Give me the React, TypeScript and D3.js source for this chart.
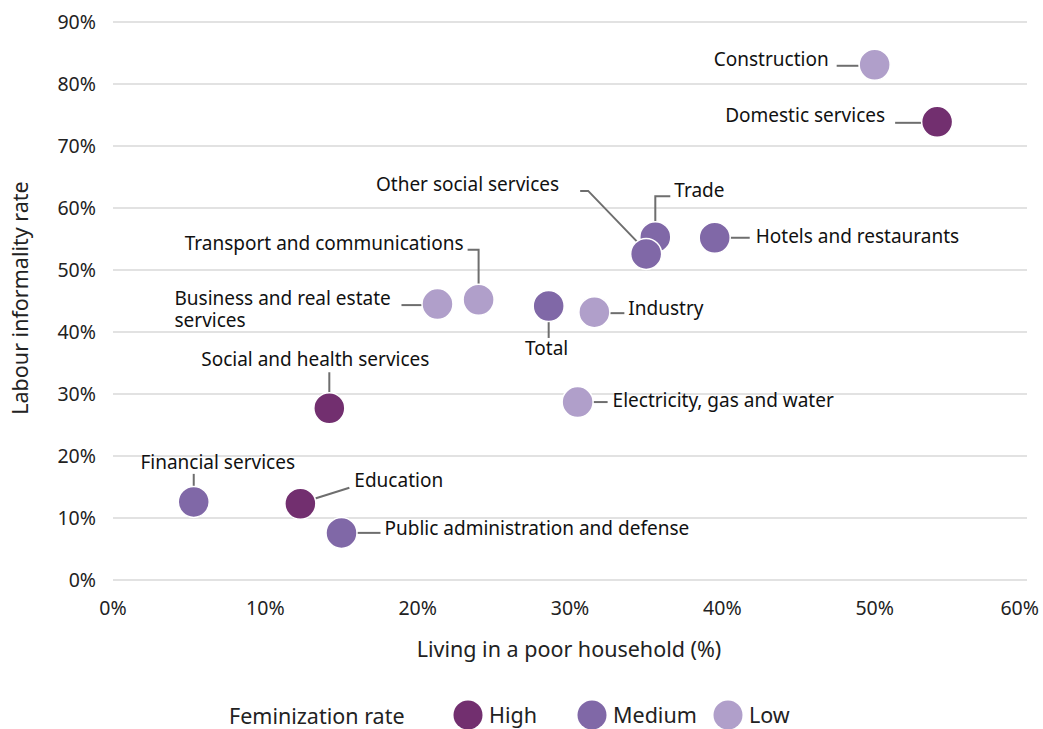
import React from "react";
import * as d3 from "d3";

const sectors = [
  "Construction",
  "Domestic services",
  "Hotels and restaurants",
  "Trade",
  "Other social services",
  "Transport and communications",
  "Business and real estate services",
  "Total",
  "Industry",
  "Social and health services",
  "Electricity, gas and water",
  "Financial services",
  "Education",
  "Public administration and defense",
];
const poorHousehold = [50.0, 54.1, 39.5, 35.6, 35.0, 24.0, 21.3, 28.6, 31.6, 14.2, 30.5, 5.3, 12.3, 15.0];
const informality = [83.1, 73.9, 55.2, 55.3, 52.6, 45.2, 44.5, 44.2, 43.2, 27.7, 28.7, 12.6, 12.3, 7.6];
const feminization = ["Low", "High", "Medium", "Medium", "Medium", "Low", "Low", "Medium", "Low", "High", "Low", "Medium", "High", "Medium"];

const xTicks = [0, 10, 20, 30, 40, 50, 60];
const yTicks = [0, 10, 20, 30, 40, 50, 60, 70, 80, 90];
const legendLevels = ["High", "Medium", "Low"];

// annotation layout: label anchor offsets and leader line paths relative to point
type Ann = { anchor: "start" | "middle" | "end"; dx: number; dy: number; lines?: string[]; path: [number, number][] };
const annotations: Ann[] = [
  { anchor: "end", dx: -46, dy: -5, path: [[-38, 1], [-16, 1]] },
  { anchor: "end", dx: -52, dy: -6, path: [[-42, 1], [-15, 1]] },
  { anchor: "start", dx: 41, dy: -1, path: [[15, 0], [35, 0]] },
  { anchor: "start", dx: 19, dy: -47, path: [[0, -15], [0, -41], [15, -41]] },
  { anchor: "end", dx: -87, dy: -70, path: [[-66, -63], [-58, -63], [-6, -9]] },
  { anchor: "end", dx: -15, dy: -56, path: [[-11, -50], [0, -50], [0, -15]] },
  { anchor: "start", dx: -263, dy: -6, lines: ["Business and real estate", "services"], path: [[-36, 1], [-15, 1]] },
  { anchor: "middle", dx: -2, dy: 42, path: [[0, 15], [0, 32]] },
  { anchor: "start", dx: 34, dy: -4, path: [[15, 1], [30, 1]] },
  { anchor: "middle", dx: -14, dy: -49, path: [[0, -36], [0, -15]] },
  { anchor: "start", dx: 35, dy: -2, path: [[15, 0], [30, 0]] },
  { anchor: "middle", dx: 24, dy: -40, path: [[0, -28], [0, -15]] },
  { anchor: "start", dx: 54, dy: -23, path: [[14, -5], [49, -16]] },
  { anchor: "start", dx: 43, dy: -5, path: [[15, 0], [39, 0]] },
];

const colors: Record<string, string> = { High: "#722f6f", Medium: "#8068a7", Low: "#b09fca" };
const FONT = "'Noto Sans', 'Open Sans', sans-serif";

export default function App() {
  const W = 1043, H = 729;
  const x = d3.scaleLinear().domain([0, 60]).range([113, 1027]);
  const y = d3.scaleLinear().domain([0, 90]).range([580, 22]);
  const line = d3.line();
  const order = [0, 1, 2, 3, 4, 5, 6, 7, 8, 9, 10, 11, 12, 13];

  return (
    <svg width={W} height={H} style={{ position: "absolute", left: 0, top: 0, fontFamily: FONT }}>
      <rect width={W} height={H} fill="#fff" />
      {yTicks.map((t) => (
        <g key={t}>
          <line x1={x(0)} x2={x(60)} y1={y(t)} y2={y(t)} stroke="#d9d9d9" strokeWidth={1.5} />
          <text x={96} y={y(t)} dy="0.35em" textAnchor="end" fontSize={19.5} fill="#222">{t}%</text>
        </g>
      ))}
      {xTicks.map((t) => {
        const last = x(t) + 20 > W - 4;
        return (
          <text key={t} x={last ? W - 4 : x(t)} y={608} dy="0.35em" textAnchor={last ? "end" : "middle"} fontSize={19.5} fill="#222">{t}%</text>
        );
      })}
      <text x={569} y={649} dy="0.35em" textAnchor="middle" fontSize={21.5} fill="#222">Living in a poor household (%)</text>
      <text transform={`translate(20,${298}) rotate(-90)`} dy="0.35em" textAnchor="middle" fontSize={21.5} fill="#222">Labour informality rate</text>

      {order.map((i) => {
        const px = x(poorHousehold[i]);
        const py = y(informality[i]);
        const a = annotations[i];
        const pts = a.path.map(([dx, dy]) => [px + dx, py + dy] as [number, number]);
        const lines = a.lines ?? [sectors[i]];
        return (
          <g key={sectors[i]}>
            <path d={line(pts) ?? ""} fill="none" stroke="#6e6e6e" strokeWidth={2} />
            <text x={px + a.dx} y={py + a.dy} textAnchor={a.anchor} fontSize={19} fill="#111">
              {lines.map((l, k) => (
                <tspan key={k} x={px + a.dx} dy={k === 0 ? "0.35em" : 22}>{l}</tspan>
              ))}
            </text>
          </g>
        );
      })}
      {order.map((i) => (
        <circle key={"c" + i} cx={x(poorHousehold[i])} cy={y(informality[i])} r={15.5}
          fill={colors[feminization[i]]} stroke="#fff" strokeWidth={1.5} />
      ))}

      <text x={229} y={716} dy="0.35em" fontSize={21.5} fill="#222">Feminization rate</text>
      {legendLevels.map((lv, k) => {
        const cx = [468, 592, 728][k];
        return (
          <g key={lv}>
            <circle cx={cx} cy={715} r={14.5} fill={colors[lv]} />
            <text x={cx + 21} y={715} dy="0.35em" fontSize={21.5} fill="#222">{lv}</text>
          </g>
        );
      })}
    </svg>
  );
}
